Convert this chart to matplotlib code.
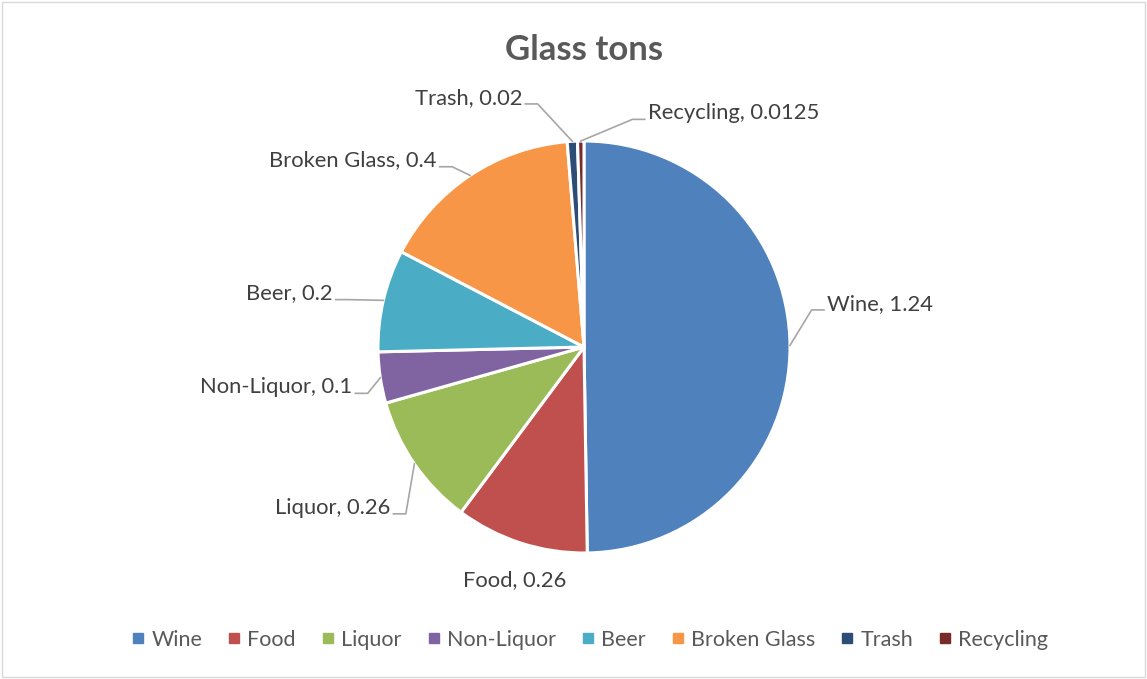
import matplotlib.pyplot as plt
import numpy as np
from matplotlib.lines import Line2D
from matplotlib.patches import Rectangle

# data
categorias = ['Wine', 'Food', 'Liquor', 'Non-Liquor', 'Beer', 'Broken Glass', 'Trash', 'Recycling']
toneladas = [1.24, 0.26, 0.26, 0.1, 0.2, 0.4, 0.02, 0.0125]
etiquetas_valor = ['1.24', '0.26', '0.26', '0.1', '0.2', '0.4', '0.02', '0.0125']
colores = ['#4F81BD', '#C0504D', '#9BBB59', '#8064A2', '#4BACC6', '#F79646', '#2C4D75', '#772C2A']

# label placement (pie radius units), alignment, and whether a leader line is drawn
pos_etiquetas = [(1.18, 0.21), (-0.335, -1.13), (-0.94, -0.78), (-1.125, -0.195),
                 (-1.22, 0.26), (-0.715, 0.905), (-0.30, 1.21), (0.31, 1.135)]
alineacion = ['left', 'center', 'right', 'right', 'right', 'right', 'right', 'left']
con_linea = [True, False, True, True, True, True, True, True]

plt.rcParams['font.family'] = ['Lato', 'DejaVu Sans']

fig = plt.figure(figsize=(11.47, 6.79), dpi=100)
fig.patches.append(Rectangle((0.002, 0.003), 0.996, 0.994, transform=fig.transFigure,
                             fill=False, edgecolor='#D9D9D9', linewidth=1))

cx, cy, r = 584 / 1147, 1 - 347 / 679, 206
ax = fig.add_axes([cx - r / 1147, cy - r / 679, 2 * r / 1147, 2 * r / 679])
cunas, _ = ax.pie(toneladas, colors=colores, startangle=90, counterclock=False,
                  wedgeprops=dict(edgecolor='white', linewidth=2.2))
ax.set_xlim(-1, 1)
ax.set_ylim(-1, 1)
ax.set_axis_off()

for i, cuna in enumerate(cunas):
    lx, ly = pos_etiquetas[i]
    ax.text(lx, ly, f'{categorias[i]}, {etiquetas_valor[i]}', ha=alineacion[i], va='center',
            fontsize=15.8, color='#404040', clip_on=False)
    if con_linea[i]:
        ang = np.deg2rad((cuna.theta1 + cuna.theta2) / 2)
        ex, ey = np.cos(ang), np.sin(ang)
        s = 1 if alineacion[i] == 'left' else -1
        yl = ly - 0.03
        xs = [ex, lx - s * 0.075, lx - s * 0.015]
        ys = [ey, yl, yl]
        ax.plot(xs, ys, color='#A6A6A6', linewidth=1.2, clip_on=False)

fig.text(584 / 1147, 1 - 50 / 679, 'Glass tons', ha='center', va='center', fontsize=25,
         fontweight='bold', color='#595959')

manijas = [Line2D([], [], marker='s', linestyle='none', markersize=6.5,
                  markerfacecolor=c, markeredgecolor=c) for c in colores]
fig.legend(manijas, categorias, loc='center', bbox_to_anchor=(590 / 1147, 1 - 640 / 679), ncol=8,
           frameon=False, fontsize=15.5, labelcolor='#595959', handlelength=0.6,
           handletextpad=0.3, columnspacing=1.2)

fig.savefig('out.png', dpi=100)
